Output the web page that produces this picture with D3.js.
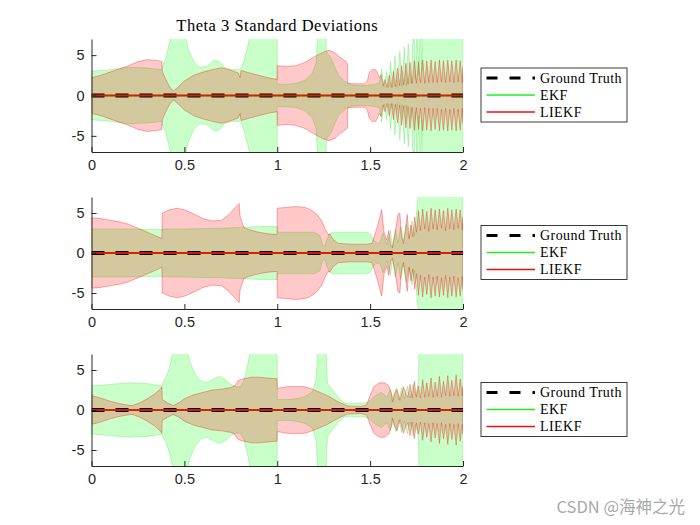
<!DOCTYPE html>
<html><head><meta charset="utf-8">
<script src="https://cdn.jsdelivr.net/npm/d3@7"></script>
<style>body{margin:0;background:#fff}</style>
</head><body><svg id="c" width="700" height="525"></svg>
<script>
const xTicks=[0,0.5,1,1.5,2];
const yTicks=[-5,0,5];
const titleText="Theta 3 Standard Deviations";
const legendLabels=["Ground Truth","EKF","LIEKF"];
const watermark="CSDN @海神之光";
const groundTruth=[[0,0],[2,0]];
const ekfEst=[[0,0],[2,0]];
const liekfEst=[[0,0],[2,0]];

// time grid for the fast oscillating part
const tOsc=[1.580,1.591,1.603,1.614,1.625,1.636,1.648,1.659,1.670,1.681,1.693,1.704,1.715,1.726,1.738,1.749,1.760,1.771,1.783,1.794,1.805,1.816,1.828,1.839,1.850,1.861,1.873,1.884,1.895,1.906,1.918,1.929,1.940,1.951,1.963,1.974,1.985,1.996];

// subplot 1 : +3 sigma bounds [t, value]
const ekf1=[[0,3.0],[0.1,3.2],[0.2,3.5],[0.3,3.4],[0.379,3.2],[0.381,3.6],[0.40,4.6],[0.42,6.5],[0.44,9],[0.47,10],[0.50,8],[0.52,5.8],[0.55,4.2],[0.58,3.5],[0.62,3.6],[0.66,4.4],[0.69,4.2],[0.72,3.4],[0.76,3.2],[0.80,3.2],[0.82,4.2],[0.84,6.0],[0.86,8],[0.9,10],[0.999,10],[1.0,1.4],[1.05,1.4],[1.1,1.5],[1.15,1.9],[1.19,2.8],[1.21,4.2],[1.22,9],[1.26,9],[1.265,5.4],[1.29,4.6],[1.31,3.5],[1.33,2.5],[1.36,1.8],[1.4,1.3],[1.45,1.2],[1.5,1.3],[1.55,1.5],[1.562,3.3],[1.575,1.0],[1.589,3.0],[1.600,1.0],[1.610,4.2],[1.621,1.0],[1.633,4.9],[1.646,1.0],[1.660,5.5],[1.672,1.1],[1.684,6.0],[1.695,1.2],[1.705,6.4],[1.720,1.5],[1.735,10],[1.744,2],[1.753,10],[1.762,2.5],[1.771,10],[1.778,3],[1.785,10],[2.0,10]];
const liekf1Head=[[0,2.2],[0.05,2.5],[0.1,2.9],[0.15,3.3],[0.2,3.7],[0.25,4.2],[0.3,4.45],[0.35,4.35],[0.379,4.2],[0.381,3.0],[0.40,2.0],[0.42,1.1],[0.44,0.55],[0.46,0.9],[0.5,1.8],[0.55,2.5],[0.6,2.9],[0.65,3.2],[0.7,3.45],[0.74,3.2],[0.79,2.8],[0.80,2.2],[0.805,3.1],[0.85,2.8],[0.9,2.5],[0.95,2.2],[0.999,2.0],[1.0,3.7],[1.05,3.6],[1.1,3.7],[1.15,4.1],[1.2,4.8],[1.25,5.4],[1.28,5.6],[1.31,5.3],[1.34,4.7],[1.37,4.2],[1.378,4.0],[1.38,1.5],[1.42,1.45],[1.47,1.45],[1.485,1.8],[1.495,2.8],[1.51,3.2],[1.53,3.2],[1.54,2.8],[1.55,2.2],[1.56,2.6],[1.57,1.2]];
const liekf1Osc=[2.0,1.0,2.5,1.0,3.0,1.1,3.4,1.2,3.7,1.3,4.0,1.4,4.1,1.5,4.3,1.5,4.2,1.6,4.4,1.5,4.3,1.6,4.4,1.6,4.2,1.6,4.4,1.7,4.3,1.6,4.4,1.7,4.3,1.6,4.4,1.7,4.3,1.6];
const liekf1End=[[2.0,3.5]];

// subplot 2
const ekf2=[[0,3.0],[0.1,3.0],[0.2,3.0],[0.3,2.95],[0.379,2.9],[0.381,3.0],[0.5,3.0],[0.6,3.05],[0.7,3.1],[0.8,3.2],[0.9,3.3],[0.999,3.3],[1.0,2.6],[1.1,2.6],[1.2,2.6],[1.23,2.2],[1.245,0.9],[1.255,0.8],[1.265,1.5],[1.28,2.4],[1.3,2.6],[1.4,2.6],[1.48,2.6],[1.5,2.4],[1.52,1.5],[1.55,1.2],[1.57,2.5],[1.59,1.0],[1.61,2.8],[1.62,0.6],[1.635,3.0],[1.65,1.2],[1.665,3.3],[1.68,1.5],[1.695,3.6],[1.71,1.8],[1.725,4.0],[1.74,2.2],[1.75,5.0],[1.76,7.5],[1.765,10],[2.0,10]];
const liekf2Head=[[0,4.4],[0.05,4.3],[0.1,4.1],[0.15,3.9],[0.2,3.6],[0.25,3.1],[0.3,2.6],[0.35,2.1],[0.379,1.8],[0.381,5.0],[0.42,5.4],[0.46,5.6],[0.5,5.4],[0.55,4.9],[0.6,4.3],[0.65,4.0],[0.7,4.1],[0.74,4.8],[0.77,5.6],[0.795,6.2],[0.80,4.6],[0.82,3.2],[0.85,2.9],[0.9,2.6],[0.95,2.4],[0.999,2.3],[1.0,5.6],[1.05,5.7],[1.1,5.8],[1.15,5.7],[1.18,5.4],[1.21,4.9],[1.24,4.0],[1.26,2.9],[1.275,2.3],[1.285,2.35],[1.3,1.7],[1.33,1.2],[1.4,1.1],[1.48,1.1],[1.51,1.2],[1.54,3.4],[1.562,5.4],[1.575,2.6],[1.59,1.6],[1.60,2.8],[1.61,1.0],[1.62,0.7],[1.635,2.5],[1.65,4.8],[1.66,5.0],[1.67,2.0],[1.68,1.2],[1.69,3.0],[1.70,4.8],[1.71,1.8],[1.72,3.5],[1.73,2.0],[1.74,4.5],[1.75,2.6]];
const liekf2Osc=[5.3,2.8,5.5,3.0,5.2,2.7,5.6,3.0,5.4,2.9,5.5,3.1,5.3,2.8,5.6,3.0,5.4,2.9,5.5,3.1,5.4,2.9];
const liekf2End=[[2.0,4.5]];

// subplot 3
const ekf3=[[0,3.0],[0.1,3.2],[0.2,3.4],[0.3,3.3],[0.379,3.0],[0.381,3.3],[0.40,4.0],[0.42,5.3],[0.44,7.5],[0.47,10],[0.51,8],[0.53,6],[0.56,4.4],[0.59,3.6],[0.62,3.4],[0.66,3.9],[0.69,4.2],[0.72,3.8],[0.75,3.2],[0.78,2.9],[0.80,2.9],[0.82,3.6],[0.84,5.5],[0.86,8],[0.9,10],[0.999,10],[1.0,1.3],[1.05,1.3],[1.1,1.4],[1.15,1.7],[1.19,2.3],[1.21,4.0],[1.22,9],[1.26,9],[1.27,3.3],[1.3,2.4],[1.33,1.5],[1.36,0.9],[1.38,0.85],[1.45,0.85],[1.48,0.9],[1.5,1.2],[1.53,1.8],[1.56,2.2],[1.59,1.6],[1.61,2.6],[1.625,1.2],[1.64,2.7],[1.655,1.3],[1.67,2.8],[1.685,1.4],[1.70,3.0],[1.715,1.5],[1.73,3.2],[1.745,1.8],[1.76,3.5],[1.765,10],[2.0,10]];
const liekf3Head=[[0,1.8],[0.05,1.5],[0.1,1.1],[0.15,0.8],[0.2,0.6],[0.22,0.55],[0.26,0.9],[0.3,1.4],[0.34,2.0],[0.37,2.6],[0.379,2.9],[0.381,1.3],[0.41,0.9],[0.44,0.55],[0.47,0.9],[0.5,1.4],[0.55,1.9],[0.6,2.2],[0.65,2.5],[0.7,2.6],[0.75,2.8],[0.77,3.0],[0.79,3.7],[0.82,3.9],[0.86,4.1],[0.9,4.1],[0.95,4.0],[0.999,3.9],[1.0,2.7],[1.05,2.9],[1.1,2.95],[1.15,2.9],[1.19,2.6],[1.23,2.2],[1.27,1.8],[1.3,1.4],[1.33,1.0],[1.36,0.7],[1.38,0.5],[1.45,0.45],[1.48,0.6],[1.5,1.8],[1.52,2.9],[1.55,3.4],[1.58,3.4],[1.60,3.0],[1.615,2.0],[1.62,1.0],[1.63,2.0],[1.645,2.6],[1.66,1.2],[1.68,2.9],[1.692,2.0]];
const liekf3Osc=[1.6,3.2,1.5,3.6,1.6,3.0,1.5,3.8,1.6,3.4,1.7,4.0,1.6,3.5,1.7,4.2,1.6,3.6,1.8,4.3,1.7,3.7,1.8,4.4,1.7,3.9,1.8];
const liekf3End=[[2.0,3.0]];

function build(head, osc, startIdx, end){
  return head.concat(osc.map((v,i)=>[tOsc[startIdx+i], v])).concat(end);
}
const liekf1=build(liekf1Head, liekf1Osc, 0, liekf1End);
const liekf2=build(liekf2Head, liekf2Osc, 16, liekf2End);
const liekf3=build(liekf3Head, liekf3Osc, 11, liekf3End);

const panels=[
  {ekf:ekf1, liekf:liekf1, top:39, bottom:152},
  {ekf:ekf2, liekf:liekf2, top:197, bottom:309},
  {ekf:ekf3, liekf:liekf3, top:354, bottom:466}
];

const svg=d3.select('#c');
const X0=91.5, X1=463;
const axisColor='#262626';
const serif='"Liberation Serif", "DejaVu Serif", serif';
const x=d3.scaleLinear().domain([0,2]).range([X0,X1]);

panels.forEach((p,i)=>{
  const y=d3.scaleLinear().domain([-7,7]).range([p.bottom,p.top]);
  const clipId='clip'+i;
  svg.append('clipPath').attr('id',clipId).append('rect')
    .attr('x',X0).attr('y',p.top).attr('width',X1-X0).attr('height',p.bottom-p.top);
  const g=svg.append('g').attr('clip-path',`url(#${clipId})`);
  const area=d3.area().x(d=>x(d[0])).y0(d=>y(-d[1])).y1(d=>y(d[1]));
  g.append('path').datum(p.ekf).attr('d',area)
    .attr('fill','rgb(0,255,0)').attr('fill-opacity',0.21)
    .attr('stroke','rgb(0,210,0)').attr('stroke-opacity',0.28).attr('stroke-width',0.8);
  g.append('path').datum(p.liekf).attr('d',area)
    .attr('fill','rgb(255,0,0)').attr('fill-opacity',0.21)
    .attr('stroke','rgb(240,0,0)').attr('stroke-opacity',0.4).attr('stroke-width',0.8);
  const line=d3.line().x(d=>x(d[0])).y(d=>y(d[1]));
  g.append('path').datum(groundTruth).attr('d',line).attr('fill','none')
    .attr('stroke','#000').attr('stroke-width',4).attr('stroke-dasharray','13,11');
  g.append('path').datum(ekfEst).attr('d',line).attr('fill','none')
    .attr('stroke','#00ee00').attr('stroke-width',1.5);
  g.append('path').datum(liekfEst).attr('d',line).attr('fill','none')
    .attr('stroke','#ee0000').attr('stroke-width',2.2).attr('stroke-opacity',0.85);

  const xa=svg.append('g').attr('transform',`translate(0,${p.bottom})`)
    .call(d3.axisBottom(x).tickValues(xTicks).tickFormat(d3.format('')).tickSizeInner(-5).tickSizeOuter(0).tickPadding(8));
  const ya=svg.append('g').attr('transform',`translate(${X0},0)`)
    .call(d3.axisLeft(y).tickValues(yTicks).tickFormat(d=>d<0?'-'+Math.abs(d):d).tickSizeInner(-5).tickSizeOuter(0).tickPadding(7));
  [xa,ya].forEach(a=>{
    a.select('.domain').attr('stroke',axisColor);
    a.selectAll('.tick line').attr('stroke',axisColor);
    a.selectAll('.tick text').attr('fill',axisColor)
      .style('font-family','"Liberation Sans", Arial, sans-serif').style('font-size','14.5px');
  });

  // legend
  const cy=y(0);
  const lg=svg.append('g').attr('transform',`translate(481,${cy-27.5})`);
  lg.append('rect').attr('x',0).attr('y',0).attr('width',146).attr('height',54)
    .attr('fill','#fff').attr('stroke',axisColor).attr('stroke-width',0.9);
  const rowsY=[10,27,44];
  const styles=[{c:'#000',w:3,d:'11,12'},{c:'#22ee22',w:1.5,d:null},{c:'#ee1111',w:1.5,d:null}];
  legendLabels.forEach((lab,k)=>{
    const ln=lg.append('line').attr('x1',5.5).attr('x2',54).attr('y1',rowsY[k]).attr('y2',rowsY[k])
      .attr('stroke',styles[k].c).attr('stroke-width',styles[k].w);
    if(styles[k].d) ln.attr('stroke-dasharray',styles[k].d);
    lg.append('text').attr('x',59).attr('y',rowsY[k]).attr('dy','0.33em')
      .style('font-family',serif).style('font-size','14px').style('letter-spacing','0.45px')
      .attr('fill','#000').text(lab);
  });
});

svg.append('text').attr('x',(X0+X1)/2).attr('y',31).attr('text-anchor','middle')
  .style('font-family',serif).style('font-size','16.5px').style('letter-spacing','0.5px')
  .attr('fill','#000').text(titleText);

svg.append('text').attr('x',685).attr('y',513).attr('text-anchor','end')
  .style('font-family','"Noto Sans CJK SC", "Noto Sans", sans-serif').style('font-size','16.5px')
  .attr('fill','#a8a8a8').text(watermark);
</script></body></html>
